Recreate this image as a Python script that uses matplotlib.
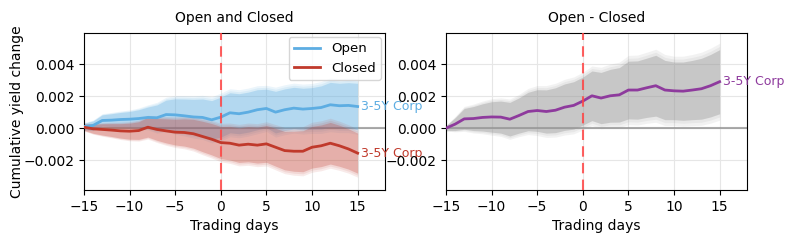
import numpy as np
import matplotlib
matplotlib.use("Agg")
import matplotlib.pyplot as plt

days = list(range(-15, 16))

open_vals = [0.00010, 0.00017, 0.00048, 0.00050, 0.00054, 0.00056, 0.00060, 0.00067, 0.00065, 0.00085,
             0.00083, 0.00077, 0.00070, 0.00067, 0.00052, 0.00069, 0.00096, 0.00090, 0.00100, 0.00115,
             0.00123, 0.00100, 0.00115, 0.00125, 0.00119, 0.00123, 0.00129, 0.00146, 0.00140, 0.00142, 0.00135]
open_hw = [0.00020, 0.00028, 0.00035, 0.00040, 0.00044, 0.00048, 0.00055, 0.00065, 0.00080, 0.00090,
           0.00100, 0.00105, 0.00110, 0.00115, 0.00120, 0.00125, 0.00125, 0.00125, 0.00125, 0.00125,
           0.00120, 0.00130, 0.00130, 0.00130, 0.00130, 0.00130, 0.00135, 0.00140, 0.00140, 0.00142, 0.00145]

closed_vals = [0.00006, -0.00004, -0.00008, -0.00012, -0.00017, -0.00019, -0.00015, 0.00006, -0.00008, -0.00017,
               -0.00025, -0.00027, -0.00035, -0.00052, -0.00069, -0.00090, -0.00094, -0.00106, -0.00100, -0.00106,
               -0.00098, -0.00119, -0.00140, -0.00144, -0.00144, -0.00119, -0.00110, -0.00094, -0.00110, -0.00130, -0.00156]
closed_hw = [0.00020, 0.00028, 0.00035, 0.00040, 0.00045, 0.00050, 0.00055, 0.00062, 0.00068, 0.00075,
             0.00080, 0.00085, 0.00090, 0.00095, 0.00098, 0.00100, 0.00105, 0.00108, 0.00110, 0.00112,
             0.00115, 0.00118, 0.00120, 0.00125, 0.00128, 0.00130, 0.00130, 0.00130, 0.00128, 0.00126, 0.00125]

diff_vals = [0.00000, 0.00025, 0.00058, 0.00060, 0.00067, 0.00070, 0.00069, 0.00056, 0.00079, 0.00104,
             0.00110, 0.00104, 0.00112, 0.00131, 0.00142, 0.00169, 0.00202, 0.00188, 0.00202, 0.00208,
             0.00238, 0.00238, 0.00252, 0.00265, 0.00238, 0.00233, 0.00231, 0.00238, 0.00246, 0.00265, 0.00290]
diff_hw = [0.00015, 0.00040, 0.00065, 0.00075, 0.00085, 0.00095, 0.00100, 0.00105, 0.00110, 0.00120,
           0.00130, 0.00135, 0.00140, 0.00145, 0.00148, 0.00150, 0.00155, 0.00160, 0.00165, 0.00170,
           0.00180, 0.00182, 0.00185, 0.00190, 0.00185, 0.00180, 0.00182, 0.00185, 0.00190, 0.00195, 0.00200]

label = "3-5Y Corp"
c_open = "#5DADE2"
c_closed = "#C0392B"
c_diff = "#8E3A9D"
c_band_diff = "#999999"

x = np.array(days)

fig = plt.figure(figsize=(7.93, 2.42), dpi=100)
ax1 = fig.add_axes([84/793, 1-190/242, 301/793, 157/242])
ax2 = fig.add_axes([446/793, 1-190/242, 301/793, 157/242])


def bands(ax, vals, hw, color, a_in, a_out):
    v = np.array(vals); h = np.array(hw)
    ax.fill_between(x, v - 1.2*h, v + 1.2*h, color=color, alpha=a_out, lw=0)
    ax.fill_between(x, v - 1.1*h, v + 1.1*h, color=color, alpha=a_out, lw=0)
    ax.fill_between(x, v - h, v + h, color=color, alpha=a_in, lw=0)


for ax in (ax1, ax2):
    ax.grid(True, color="#e6e6e6", lw=0.8)
    ax.set_axisbelow(True)
    ax.axhline(0, color="#888888", lw=1.5, alpha=0.7, zorder=1)
    ax.axvline(0, color="#ff4444", lw=1.5, ls=(0, (5, 3)), alpha=0.85, zorder=4)
    ax.set_xlim(-15, 18)
    ax.set_ylim(-0.00386, 0.00594)
    ax.set_yticks([-0.002, 0.0, 0.002, 0.004])
    ax.set_yticklabels(["\u22120.002", "0.000", "0.002", "0.004"])
    ax.set_xticks([-15, -10, -5, 0, 5, 10, 15])
    ax.set_xlabel("Trading days", fontsize=10)

bands(ax1, open_vals, open_hw, c_open, 0.30, 0.12)
bands(ax1, closed_vals, closed_hw, c_closed, 0.25, 0.10)
ax1.plot(x, open_vals, color=c_open, lw=2, label="Open", zorder=3)
ax1.plot(x, closed_vals, color=c_closed, lw=2, label="Closed", zorder=3)
ax1.text(15.4, open_vals[-1], label, color=c_open, fontsize=9, va="center", ha="left", clip_on=False)
ax1.text(15.4, closed_vals[-1], label, color=c_closed, fontsize=9, va="center", ha="left", clip_on=False)
ax1.set_title("Open and Closed", fontsize=10, pad=8)
ax1.set_ylabel("Cumulative yield change", fontsize=10)
ax1.yaxis.set_label_coords(-0.20, 0.5)
ax1.legend(loc="upper right", fontsize=9.5, borderaxespad=0.3)

bands(ax2, diff_vals, diff_hw, c_band_diff, 0.40, 0.12)
ax2.plot(x, diff_vals, color=c_diff, lw=2, zorder=3)
ax2.text(15.4, diff_vals[-1], label, color=c_diff, fontsize=9, va="center", ha="left", clip_on=False)
ax2.set_title("Open - Closed", fontsize=10, pad=8)

fig.savefig("out.png", dpi=100)
